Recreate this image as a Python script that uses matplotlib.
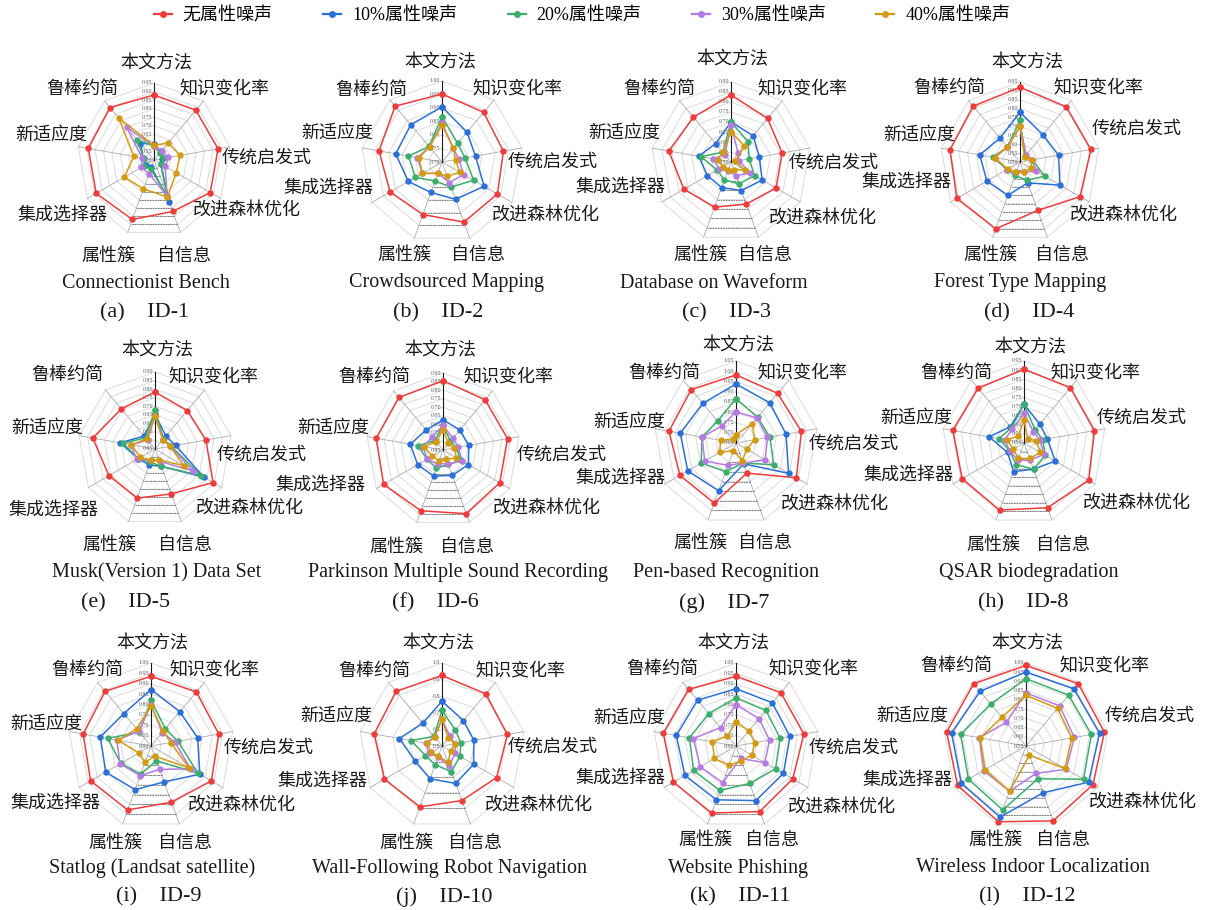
import numpy as np
import matplotlib
matplotlib.use("Agg")
import matplotlib.pyplot as plt
from matplotlib.lines import Line2D

# ---------------- data ----------------
categories = ['本文方法', '知识变化率', '传统启发式', '改进森林优化', '自信息',
              '属性簇', '集成选择器', '新适应度', '鲁棒约简']
series_labels = ['无属性噪声', '10%属性噪声', '20%属性噪声', '30%属性噪声', '40%属性噪声']
dataset_names = ['Connectionist Bench', 'Crowdsourced Mapping', 'Database on Waveform',
                 'Forest Type Mapping', 'Musk(Version 1) Data Set',
                 'Parkinson Multiple Sound Recording', 'Pen-based Recognition',
                 'QSAR biodegradation', 'Statlog (Landsat satellite)',
                 'Wall-Following Robot Navigation', 'Website Phishing',
                 'Wireless Indoor Localization']
panel_ids = ['(a)    ID-1', '(b)    ID-2', '(c)    ID-3', '(d)    ID-4',
             '(e)    ID-5', '(f)    ID-6', '(g)    ID-7', '(h)    ID-8',
             '(i)    ID-9', '(j)    ID-10', '(k)    ID-11', '(l)    ID-12']

# radial scale (min, max, step) of each panel
r_scales = [(0.50, 0.95, 0.05), (0.70, 1.00, 0.05), (0.50, 0.90, 0.05), (0.50, 0.95, 0.05),
            (0.45, 0.90, 0.05), (0.45, 0.90, 0.05), (0.65, 1.05, 0.05), (0.50, 0.95, 0.05),
            (0.60, 1.00, 0.05), (0.50, 1.00, 0.10), (0.60, 1.00, 0.05), (0.55, 1.00, 0.05)]
tick_formats = ['%.2f'] * 9 + ['%.1f'] + ['%.2f'] * 2

# values per panel: [无噪声, 10%, 20%, 30%, 40%], each over the 9 categories
id1 = [[0.880, 0.880, 0.880, 0.880, 0.820, 0.870, 0.890, 0.890, 0.900],
       [0.595, 0.565, 0.545, 0.545, 0.760, 0.545, 0.555, 0.565, 0.625],
       [0.580, 0.555, 0.555, 0.545, 0.725, 0.555, 0.565, 0.560, 0.655],
       [0.580, 0.570, 0.585, 0.575, 0.725, 0.585, 0.585, 0.570, 0.750],
       [0.585, 0.630, 0.655, 0.650, 0.730, 0.680, 0.700, 0.620, 0.820]]
id2 = [[0.952, 0.940, 0.931, 0.937, 0.937, 0.907, 0.922, 0.937, 0.970],
       [0.904, 0.844, 0.826, 0.880, 0.847, 0.820, 0.844, 0.874, 0.880],
       [0.868, 0.790, 0.787, 0.835, 0.799, 0.775, 0.814, 0.826, 0.775],
       [0.844, 0.766, 0.763, 0.793, 0.781, 0.745, 0.784, 0.793, 0.772],
       [0.838, 0.766, 0.751, 0.775, 0.757, 0.745, 0.784, 0.787, 0.772]]
id3 = [[0.836, 0.784, 0.760, 0.760, 0.724, 0.740, 0.772, 0.816, 0.792],
       [0.700, 0.672, 0.644, 0.680, 0.652, 0.636, 0.636, 0.664, 0.620],
       [0.700, 0.632, 0.592, 0.636, 0.616, 0.596, 0.580, 0.652, 0.564],
       [0.684, 0.556, 0.540, 0.612, 0.572, 0.548, 0.568, 0.592, 0.548],
       [0.652, 0.604, 0.520, 0.580, 0.540, 0.540, 0.548, 0.568, 0.564]]
id4 = [[0.920, 0.905, 0.905, 0.890, 0.790, 0.900, 0.910, 0.900, 0.910],
       [0.780, 0.700, 0.720, 0.760, 0.625, 0.700, 0.715, 0.730, 0.675],
       [0.735, 0.545, 0.570, 0.660, 0.610, 0.580, 0.585, 0.655, 0.610],
       [0.700, 0.555, 0.570, 0.605, 0.560, 0.560, 0.585, 0.645, 0.610],
       [0.700, 0.540, 0.570, 0.570, 0.560, 0.560, 0.580, 0.645, 0.610]]
id5 = [[0.783, 0.743, 0.752, 0.842, 0.729, 0.756, 0.761, 0.819, 0.756],
       [0.653, 0.549, 0.572, 0.779, 0.558, 0.549, 0.563, 0.657, 0.549],
       [0.680, 0.527, 0.545, 0.761, 0.558, 0.531, 0.563, 0.639, 0.536],
       [0.644, 0.522, 0.540, 0.707, 0.527, 0.518, 0.572, 0.594, 0.518],
       [0.644, 0.522, 0.540, 0.644, 0.518, 0.518, 0.549, 0.590, 0.527]]
id6 = [[0.855, 0.833, 0.833, 0.833, 0.846, 0.828, 0.851, 0.846, 0.851],
       [0.626, 0.603, 0.603, 0.621, 0.608, 0.612, 0.621, 0.644, 0.603],
       [0.594, 0.518, 0.527, 0.572, 0.540, 0.563, 0.558, 0.599, 0.522],
       [0.594, 0.540, 0.540, 0.581, 0.536, 0.536, 0.558, 0.567, 0.549],
       [0.567, 0.500, 0.518, 0.540, 0.509, 0.518, 0.522, 0.563, 0.513]]
id7 = [[0.982, 0.966, 0.974, 0.990, 0.806, 0.962, 0.966, 0.982, 0.990],
       [0.938, 0.906, 0.898, 0.946, 0.758, 0.898, 0.922, 0.926, 0.902],
       [0.866, 0.814, 0.818, 0.862, 0.754, 0.798, 0.846, 0.818, 0.790],
       [0.802, 0.810, 0.806, 0.814, 0.754, 0.766, 0.826, 0.818, 0.758],
       [0.690, 0.774, 0.742, 0.710, 0.742, 0.690, 0.742, 0.726, 0.674]]
id8 = [[0.905, 0.896, 0.892, 0.910, 0.878, 0.892, 0.892, 0.896, 0.892],
       [0.712, 0.635, 0.630, 0.698, 0.653, 0.667, 0.604, 0.694, 0.617],
       [0.712, 0.595, 0.604, 0.635, 0.653, 0.626, 0.590, 0.640, 0.608],
       [0.662, 0.581, 0.590, 0.626, 0.599, 0.599, 0.590, 0.608, 0.599],
       [0.626, 0.532, 0.568, 0.604, 0.590, 0.590, 0.568, 0.595, 0.550]]
id9 = [[0.936, 0.940, 0.932, 0.936, 0.888, 0.928, 0.936, 0.932, 0.944],
       [0.872, 0.816, 0.828, 0.872, 0.784, 0.824, 0.852, 0.848, 0.804],
       [0.820, 0.708, 0.732, 0.860, 0.676, 0.744, 0.768, 0.812, 0.688],
       [0.800, 0.684, 0.716, 0.820, 0.720, 0.752, 0.772, 0.768, 0.692],
       [0.792, 0.692, 0.696, 0.812, 0.652, 0.684, 0.668, 0.760, 0.708]]
id10 = [[0.925, 0.910, 0.900, 0.880, 0.850, 0.890, 0.900, 0.915, 0.930],
        [0.770, 0.700, 0.695, 0.720, 0.740, 0.710, 0.685, 0.760, 0.680],
        [0.715, 0.625, 0.615, 0.625, 0.665, 0.620, 0.615, 0.690, 0.575],
        [0.660, 0.575, 0.580, 0.590, 0.630, 0.570, 0.590, 0.600, 0.570],
        [0.660, 0.560, 0.580, 0.560, 0.605, 0.565, 0.575, 0.590, 0.570]]
id11 = [[0.936, 0.936, 0.932, 0.916, 0.936, 0.944, 0.948, 0.956, 0.956],
        [0.876, 0.872, 0.864, 0.864, 0.880, 0.876, 0.884, 0.892, 0.888],
        [0.832, 0.824, 0.816, 0.820, 0.792, 0.828, 0.836, 0.828, 0.804],
        [0.800, 0.772, 0.764, 0.760, 0.664, 0.788, 0.800, 0.808, 0.716],
        [0.716, 0.696, 0.692, 0.688, 0.676, 0.700, 0.720, 0.716, 0.664]]
id12 = [[0.987, 0.991, 0.982, 0.969, 0.982, 0.987, 0.978, 0.987, 0.991],
        [0.951, 0.955, 0.955, 0.942, 0.820, 0.960, 0.955, 0.960, 0.937],
        [0.915, 0.910, 0.910, 0.910, 0.739, 0.919, 0.910, 0.910, 0.847],
        [0.838, 0.834, 0.816, 0.802, 0.708, 0.811, 0.816, 0.807, 0.717],
        [0.825, 0.816, 0.802, 0.793, 0.604, 0.811, 0.807, 0.802, 0.753]]
panel_values = [id1, id2, id3, id4, id5, id6, id7, id8, id9, id10, id11, id12]

# ---------------- layout / style ----------------
W, H = 1208, 910
colors = ['#EE3B3B', '#2B6FD8', '#3AAE6A', '#B57BE3', '#D49A12']

# (center x, center y, radius) in pixels
panel_geom = [(154, 160, 77), (442, 162, 81), (731, 162, 80), (1020, 162, 80),
              (155, 449, 77), (443, 450, 77), (736, 443, 82), (1024, 443, 82),
              (151, 746, 83), (442, 746, 83), (736, 746, 83), (1026, 746, 83)]
label_pos = [
    [(156, 63), (224, 89), (267, 158), (247, 210), (184, 256), (108, 256), (62, 215), (51, 135), (82, 89)],
    [(440, 62), (517, 89), (553, 162), (546, 215), (478, 255), (404, 255), (328, 188), (337, 133), (371, 90)],
    [(732, 59), (802, 89), (834, 163), (823, 218), (765, 255), (700, 255), (620, 187), (624, 133), (659, 89)],
    [(1027, 62), (1098, 88), (1137, 129), (1124, 215), (1062, 255), (990, 255), (906, 182), (919, 135), (949, 88)],
    [(157, 350), (213, 377), (262, 455), (250, 508), (185, 545), (109, 545), (53, 510), (47, 428), (67, 375)],
    [(440, 350), (508, 377), (562, 455), (547, 508), (467, 547), (396, 547), (320, 485), (333, 428), (374, 377)],
    [(738, 345), (802, 373), (854, 444), (835, 504), (765, 543), (700, 543), (620, 478), (629, 422), (664, 373)],
    [(1030, 347), (1095, 373), (1142, 418), (1137, 503), (1063, 545), (993, 545), (908, 475), (916, 418), (956, 373)],
    [(152, 643), (214, 670), (269, 748), (242, 805), (185, 843), (115, 843), (55, 803), (46, 724), (87, 670)],
    [(438, 643), (520, 671), (553, 747), (539, 805), (475, 843), (406, 843), (322, 781), (336, 716), (374, 671)],
    [(733, 643), (813, 669), (854, 748), (842, 807), (772, 840), (705, 840), (620, 778), (629, 718), (662, 669)],
    [(1027, 643), (1104, 666), (1150, 716), (1143, 802), (1063, 840), (995, 840), (907, 780), (912, 716), (956, 666)],
]
name_pos = [(146, 283), (447, 283), (714, 283), (1020, 283),
            (157, 573), (458, 573), (726, 573), (1029, 573),
            (152, 868), (450, 868), (738, 868), (1033, 868)]
id_pos = [(145, 313), (438, 313), (727, 313), (1029, 313),
          (126, 603), (435, 603), (724, 603), (1023, 603),
          (159, 897), (444, 897), (740, 897), (1027, 897)]

CJK = 'Noto Sans CJK SC'
SERIF = 'Liberation Serif'

def fx(x):
    return x / W

def fy(y):
    return 1 - y / H

fig = plt.figure(figsize=(W / 100, H / 100), dpi=100)

n = len(categories)
angles = np.deg2rad(np.arange(n) * 360.0 / n)
ang_closed = np.concatenate([angles, angles[:1]])

for p in range(12):
    cx, cy, R = panel_geom[p]
    rmin, rmax, step = r_scales[p]
    ax = fig.add_axes([fx(cx - R), fy(cy + R), 2 * R / W, 2 * R / H], projection='polar')
    ax.set_theta_zero_location('N')
    ax.set_theta_direction(-1)
    ax.set_ylim(rmin, rmax)
    ax.axis('off')

    rings = np.arange(rmin, rmax + step / 2, step)
    # polygon rings
    for v in rings[1:]:
        ax.plot(ang_closed, [v] * (n + 1), color='#D6D6D6', lw=0.6, zorder=1, clip_on=False)
    # dark dashed segments in bottom sector
    for v in rings[1:-1]:
        ax.plot([angles[4], angles[5]], [v, v], color='#505050', lw=0.5,
                ls=(0, (2.5, 1.2)), zorder=1.5, clip_on=False)
    # spokes
    for k in range(1, n):
        ax.plot([angles[k], angles[k]], [rmin, rmax], color='#ABABAB', lw=0.6,
                zorder=1, clip_on=False)
    ax.plot([0, 0], [rmin, rmax], color='#1A1A1A', lw=0.8, zorder=2, clip_on=False)

    # tick labels along the main axis
    for v in rings:
        ax.annotate(tick_formats[p] % v, xy=(0, v), xytext=(-1.2, 0),
                    textcoords='offset points', ha='right', va='center',
                    fontsize=4.2, color='#595959', family=SERIF, zorder=3)

    # series
    for s in range(5):
        vals = panel_values[p][s]
        ax.plot(ang_closed, list(vals) + [vals[0]], color=colors[s], lw=1.1,
                marker='o', ms=3.6, zorder=4 + s, clip_on=False)

    # category labels
    for k in range(n):
        x, y = label_pos[p][k]
        fig.text(fx(x), fy(y), categories[k], ha='center', va='center',
                 fontsize=13, family=CJK, color='#1A1A1A')

    # titles
    fig.text(fx(name_pos[p][0]), fy(name_pos[p][1]), dataset_names[p], ha='center',
             va='center', fontsize=14.5, family=SERIF, color='#1A1A1A')
    fig.text(fx(id_pos[p][0]), fy(id_pos[p][1]), panel_ids[p], ha='center',
             va='center', fontsize=16, family=SERIF, color='#1A1A1A')

# legend
handles = [Line2D([], [], color=c, lw=1.6, marker='o', ms=4) for c in colors]
fig.legend(handles, series_labels, loc='center', bbox_to_anchor=(fx(582), fy(16)),
           ncol=5, frameon=False, handlelength=1.0, handletextpad=0.6,
           columnspacing=2.8, prop={'family': [SERIF, CJK], 'size': 13})

fig.savefig('out.png', dpi=100)
